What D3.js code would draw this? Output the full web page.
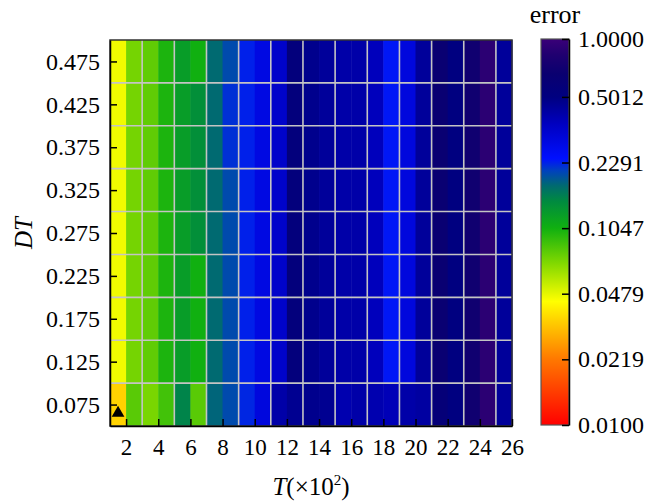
<!DOCTYPE html>
<html>
<head>
<meta charset="utf-8">
<script src="https://cdn.jsdelivr.net/npm/d3@7"></script>
<style>
  html, body { margin: 0; padding: 0; background: #fff; }
  svg text { font-family: "Liberation Serif", "Times New Roman", serif; fill: #000; }
</style>
</head>
<body>
<svg id="chart" width="649" height="501"></svg>
<script>
// Heatmap of error over T (x100) and DT, with a log colour bar.

// T cells: each cell spans [t, t + 1]
const tCells = [1, 2, 3, 4, 5, 6, 7, 8, 9, 10, 11, 12, 13, 14, 15, 16, 17, 18, 19, 20, 21, 22, 23, 24, 25];
// DT rows (row centres), bottom to top
const dtRows = [0.075, 0.125, 0.175, 0.225, 0.275, 0.325, 0.375, 0.425, 0.475];
const xTicks = [2, 4, 6, 8, 10, 12, 14, 16, 18, 20, 22, 24, 26];
const xGrid = [3, 5, 7, 9, 11, 13, 15, 17, 19, 21, 23, 25];
const yGrid = [0.1, 0.15, 0.2, 0.25, 0.3, 0.35, 0.4, 0.45];
const cbTicks = [0.01, 0.0219, 0.0479, 0.1047, 0.2291, 0.5012, 1.0];

// error values, one list per DT row (same order as dtRows)
const err075 = [0.035, 0.080, 0.071, 0.087, 0.150, 0.080, 0.178, 0.200, 0.225, 0.30, 0.41, 0.46, 0.47, 0.46, 0.395, 0.41, 0.395, 0.38, 0.41, 0.425, 0.575, 0.50, 0.70, 0.90, 0.44];
const err125 = [0.046, 0.072, 0.078, 0.100, 0.123, 0.105, 0.174, 0.200, 0.229, 0.29, 0.34, 0.54, 0.47, 0.44, 0.41, 0.41, 0.37, 0.235, 0.30, 0.44, 0.64, 0.50, 0.70, 0.90, 0.44];
const err175 = [0.046, 0.072, 0.078, 0.100, 0.123, 0.105, 0.174, 0.200, 0.229, 0.29, 0.34, 0.54, 0.47, 0.44, 0.41, 0.41, 0.37, 0.235, 0.30, 0.44, 0.64, 0.50, 0.70, 0.90, 0.44];
const err225 = [0.046, 0.072, 0.078, 0.100, 0.123, 0.105, 0.174, 0.200, 0.229, 0.29, 0.34, 0.54, 0.47, 0.44, 0.41, 0.41, 0.37, 0.235, 0.30, 0.44, 0.64, 0.50, 0.70, 0.90, 0.44];
const err275 = [0.046, 0.072, 0.078, 0.100, 0.123, 0.138, 0.174, 0.200, 0.229, 0.29, 0.34, 0.54, 0.47, 0.44, 0.41, 0.41, 0.37, 0.235, 0.30, 0.44, 0.64, 0.50, 0.70, 0.90, 0.44];
const err325 = [0.046, 0.072, 0.078, 0.100, 0.123, 0.138, 0.174, 0.200, 0.229, 0.29, 0.34, 0.54, 0.47, 0.44, 0.41, 0.41, 0.37, 0.235, 0.30, 0.44, 0.64, 0.50, 0.70, 0.90, 0.44];
const err375 = [0.046, 0.072, 0.078, 0.100, 0.123, 0.138, 0.174, 0.219, 0.229, 0.29, 0.34, 0.54, 0.47, 0.44, 0.41, 0.41, 0.37, 0.235, 0.30, 0.44, 0.64, 0.50, 0.70, 0.90, 0.44];
const err425 = [0.046, 0.072, 0.078, 0.100, 0.123, 0.138, 0.174, 0.219, 0.229, 0.29, 0.34, 0.54, 0.47, 0.44, 0.41, 0.41, 0.37, 0.235, 0.30, 0.44, 0.64, 0.50, 0.70, 0.90, 0.44];
const err475 = [0.046, 0.072, 0.078, 0.100, 0.123, 0.105, 0.174, 0.200, 0.229, 0.29, 0.34, 0.54, 0.47, 0.44, 0.41, 0.41, 0.37, 0.235, 0.30, 0.44, 0.64, 0.50, 0.70, 0.90, 0.44];
const errRows = [err075, err125, err175, err225, err275, err325, err375, err425, err475];

// best point marker
const bestT = [1.5];
const bestDT = [0.065];

// colour map stops (error value -> colour)
const CMAP_VALUES = [0.01, 0.0219, 0.0347, 0.0437, 0.0692, 0.1047, 0.1445, 0.1738, 0.2089, 0.2399, 0.3631, 0.5012, 0.6607, 0.8318, 1.0];
const CMAP_COLORS = ['#ff0000', '#ff7800', '#ffd000', '#ffff00', '#80d800', '#10b010', '#008a40', '#006a70', '#0040c0', '#0010ff', '#0000c0', '#000080', '#0a0070', '#200070', '#3a0078'];

const M = { left: 110, right: 512, top: 40, bottom: 426 };
const CB = { x: 541, w: 28, top: 39, bottom: 425 };
const TICK = 7;

const svg = d3.select('#chart');

const x = d3.scaleLinear().domain([1, 26]).range([M.left, M.right]);
const y = d3.scaleLinear().domain([0.05, 0.5]).range([M.bottom, M.top]);
const color = d3.scaleLog().domain(CMAP_VALUES).range(CMAP_COLORS).interpolate(d3.interpolateRgb);

const cells = [];
dtRows.forEach((dt, i) => {
  tCells.forEach((t, j) => cells.push({ t, dt, v: errRows[i][j] }));
});

// cells
svg.append('g')
  .selectAll('rect')
  .data(cells)
  .join('rect')
  .attr('x', (d) => x(d.t))
  .attr('y', (d) => y(d.dt + 0.025))
  .attr('width', (d) => x(d.t + 1) - x(d.t) + 0.5)
  .attr('height', (d) => y(d.dt - 0.025) - y(d.dt + 0.025) + 0.5)
  .attr('fill', (d) => color(d.v));

// grid
const grid = svg.append('g').attr('stroke', '#c4c4c4').attr('stroke-width', 1.6);
grid.selectAll('.gx').data(xGrid).join('line')
  .attr('x1', (d) => x(d)).attr('x2', (d) => x(d))
  .attr('y1', M.top).attr('y2', M.bottom);
grid.selectAll('.gy').data(yGrid).join('line')
  .attr('y1', (d) => y(d)).attr('y2', (d) => y(d))
  .attr('x1', M.left).attr('x2', M.right);

// best-point marker
svg.append('g')
  .selectAll('path')
  .data(bestT.map((t, i) => [t, bestDT[i]]))
  .join('path')
  .attr('d', d3.symbol(d3.symbolTriangle, 70))
  .attr('transform', (d) => `translate(${x(d[0])},${y(d[1])})`)
  .attr('fill', '#000');

// frame
svg.append('rect')
  .attr('x', M.left).attr('y', M.top)
  .attr('width', M.right - M.left).attr('height', M.bottom - M.top)
  .attr('fill', 'none').attr('stroke', '#333').attr('stroke-width', 1.5);

// axes (ticks inward)
const xAxis = svg.append('g')
  .attr('transform', `translate(0,${M.bottom})`)
  .call(d3.axisBottom(x).tickValues(xTicks).tickSize(-TICK).tickPadding(13).tickSizeOuter(0));
const yAxis = svg.append('g')
  .attr('transform', `translate(${M.left},0)`)
  .call(d3.axisLeft(y).tickValues(dtRows).tickFormat(d3.format('.3f')).tickSize(-TICK).tickPadding(10).tickSizeOuter(0));
[xAxis, yAxis].forEach((g) => {
  g.select('.domain').attr('stroke', '#000').attr('stroke-width', 1.5);
  g.selectAll('.tick line').attr('stroke', '#000').attr('stroke-width', 1.5);
  g.selectAll('.tick text').style('font-family', '"Liberation Serif", serif').attr('fill', '#000');
});
xAxis.selectAll('.tick text').style('font-size', '23px');
yAxis.selectAll('.tick text').style('font-size', '24px');

// axis titles
const xt = svg.append('text')
  .attr('x', 311).attr('y', 495)
  .attr('text-anchor', 'middle').style('font-size', '25px');
xt.append('tspan').style('font-style', 'italic').text('T');
xt.append('tspan').text('(×10');
xt.append('tspan').attr('dy', -10).style('font-size', '15px').text('2');
xt.append('tspan').attr('dy', 10).text(')');

svg.append('text')
  .attr('transform', `translate(32,${(M.top + M.bottom) / 2}) rotate(-90)`)
  .attr('text-anchor', 'middle')
  .style('font-size', '25px').style('font-style', 'italic')
  .text('DT');

// colour bar
const cbY = d3.scaleLog().domain([0.01, 1]).range([CB.bottom, CB.top]);
const defs = svg.append('defs');
const grad = defs.append('linearGradient')
  .attr('id', 'cbgrad').attr('x1', 0).attr('y1', 1).attr('x2', 0).attr('y2', 0);
grad.selectAll('stop')
  .data(CMAP_VALUES)
  .join('stop')
  .attr('offset', (d) => (CB.bottom - cbY(d)) / (CB.bottom - CB.top))
  .attr('stop-color', (d) => color(d));

svg.append('rect')
  .attr('x', CB.x).attr('y', CB.top)
  .attr('width', CB.w).attr('height', CB.bottom - CB.top)
  .attr('fill', 'url(#cbgrad)')
  .attr('stroke', '#555').attr('stroke-width', 1.2);

const cbAxis = svg.append('g')
  .attr('transform', `translate(${CB.x + CB.w},0)`)
  .call(d3.axisRight(cbY).tickValues(cbTicks).tickFormat(d3.format('.4f')).tickSize(-TICK).tickPadding(9).tickSizeOuter(0));
cbAxis.select('.domain').attr('stroke', '#000').attr('stroke-width', 1.5);
cbAxis.selectAll('.tick line').attr('stroke', '#000').attr('stroke-width', 1.5);
cbAxis.selectAll('.tick text')
  .style('font-family', '"Liberation Serif", serif').style('font-size', '24px').attr('fill', '#000');

svg.append('text')
  .attr('x', 555).attr('y', 23)
  .attr('text-anchor', 'middle').style('font-size', '26px')
  .text('error');
</script>
</body>
</html>
